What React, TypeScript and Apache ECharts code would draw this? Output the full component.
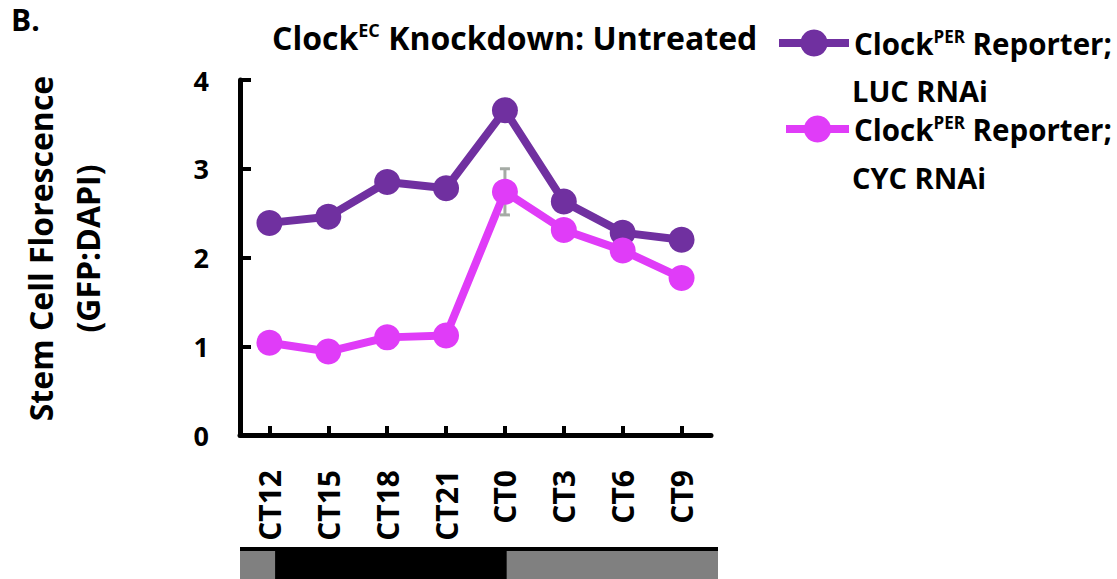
import React, { useEffect, useRef } from 'react';
import * as echarts from 'echarts';

const categories = ['CT12', 'CT15', 'CT18', 'CT21', 'CT0', 'CT3', 'CT6', 'CT9'];
const lucValues = [2.39, 2.46, 2.85, 2.78, 3.66, 2.63, 2.28, 2.2];
const cycValues = [1.04, 0.94, 1.1, 1.12, 2.74, 2.31, 2.08, 1.77];
const cycErr = [0.05, 0.05, 0.05, 0.05, 0.26, 0.06, 0.05, 0.05];
const lucErr = [0.04, 0.04, 0.05, 0.05, 0.06, 0.05, 0.04, 0.04];
const yTicks = [0, 1, 2, 3, 4];

// light/dark schedule bar (positions in category-index units)
const phaseStart = [-0.5, 0.1, 4.03];
const phaseEnd = [0.1, 4.03, 7.62];
const phaseKind = ['light', 'dark', 'light'];

const LUC_NAME = 'ClockPER Reporter; LUC RNAi';
const CYC_NAME = 'ClockPER Reporter; CYC RNAi';
const LUC_LINE2 = 'LUC RNAi';
const CYC_LINE2 = 'CYC RNAi';
const FONT = '"Open Sans", sans-serif';
const PURPLE = '#7030A0';
const MAGENTA = '#E03CF8';

const legendRich = {
  a: { fontSize: 29.5, fontWeight: 'bold', fontFamily: FONT, color: '#000', lineHeight: 30 },
  p: { fontSize: 17, fontWeight: 'bold', fontFamily: FONT, color: '#000', lineHeight: 17, padding: [0, 0, 13, 0] },
};

export default function App() {
  const ref = useRef<HTMLDivElement>(null);
  useEffect(() => {
    const chart = echarts.init(ref.current!, null, { renderer: 'svg' });
    const errSeries = (vals: number[], errs: number[], name: string) => ({
      type: 'custom',
      name: name + ' err',
      z: 1,
      xAxisIndex: 0,
      yAxisIndex: 0,
      data: vals.map((v, i) => [i, v - errs[i], v + errs[i]]),
      renderItem: (params: any, api: any) => {
        const i = api.value(0);
        const lo = api.coord([i, api.value(1)]);
        const hi = api.coord([i, api.value(2)]);
        const style = { stroke: '#A5ABA5', lineWidth: 3 };
        return {
          type: 'group',
          children: [
            { type: 'line', shape: { x1: lo[0], y1: lo[1], x2: hi[0], y2: hi[1] }, style },
            { type: 'line', shape: { x1: lo[0] - 5, y1: lo[1], x2: lo[0] + 5, y2: lo[1] }, style },
            { type: 'line', shape: { x1: hi[0] - 5, y1: hi[1], x2: hi[0] + 5, y2: hi[1] }, style },
          ],
        };
      },
    });
    const option: any = {
      animation: false,
      backgroundColor: '#fff',
      textStyle: { fontFamily: FONT },
      title: {
        text: '{a|Clock}{p|EC}{a| Knockdown: Untreated}',
        left: 272,
        top: 13,
        padding: 0,
        textStyle: {
          rich: {
            a: { fontSize: 32, fontWeight: 'bold', fontFamily: FONT, color: '#000', lineHeight: 48 },
            p: { fontSize: 18, fontWeight: 'bold', fontFamily: FONT, color: '#000', lineHeight: 19, padding: [0, 0, 14, 0] },
          },
        },
      },
      graphic: [
        {
          type: 'text',
          left: 11,
          top: 4,
          style: { text: 'B.', font: `bold 30px ${FONT}`, fill: '#000' },
        },
        {
          type: 'text',
          x: 852,
          y: 90,
          style: { text: LUC_LINE2, font: `bold 29px ${FONT}`, fill: '#000', verticalAlign: 'middle', lineHeight: 30 },
        },
        {
          type: 'text',
          x: 852,
          y: 177,
          style: { text: CYC_LINE2, font: `bold 29px ${FONT}`, fill: '#000', verticalAlign: 'middle', lineHeight: 30 },
        },
      ],
      legend: [
        {
          data: [LUC_NAME],
          left: 775,
          top: 45 - 17,
          padding: 0,
          itemWidth: 70,
          itemHeight: 34,
          selectedMode: false,
          lineStyle: { width: 8 },
          formatter: () => '{a|Clock}{p|PER}{a| Reporter;}',
          textStyle: { rich: legendRich },
        },
        {
          data: [CYC_NAME],
          left: 782,
          top: 131 - 17,
          padding: 0,
          itemWidth: 63,
          itemHeight: 34,
          selectedMode: false,
          lineStyle: { width: 8 },
          formatter: () => '{a|Clock}{p|PER}{a| Reporter;}',
          textStyle: { rich: legendRich },
        },
      ],
      grid: [
        { left: 240, top: 80, width: 471, height: 355 },
        { left: 240, top: 547, width: 478, height: 32, show: true, backgroundColor: '#000', borderWidth: 0 },
      ],
      xAxis: [
        {
          gridIndex: 0,
          type: 'category',
          data: categories,
          boundaryGap: true,
          axisLine: { lineStyle: { color: '#000', width: 5 } },
          axisTick: { show: true, inside: true, alignWithLabel: true, length: 9, lineStyle: { width: 4, color: '#000' } },
          axisLabel: { rotate: 90, margin: 35, fontSize: 30, fontWeight: 'bold', fontFamily: FONT, color: '#000' },
          splitLine: { show: false },
        },
        { gridIndex: 1, type: 'value', min: -0.5, max: 7.62, show: false },
      ],
      yAxis: [
        {
          gridIndex: 0,
          type: 'value',
          min: yTicks[0],
          max: yTicks[yTicks.length - 1],
          interval: 1,
          name: 'Stem Cell Florescence\n(GFP:DAPI)',
          nameLocation: 'middle',
          nameRotate: 90,
          nameGap: 129,
          nameTextStyle: { fontSize: 32, fontWeight: 'bold', fontFamily: FONT, color: '#000', lineHeight: 47, padding: [0, 0, 0, 18] },
          axisLine: { show: true, lineStyle: { color: '#000', width: 5 } },
          axisTick: { show: true, inside: true, length: 11, lineStyle: { width: 4, color: '#000' } },
          axisLabel: { margin: 31, fontSize: 27, fontWeight: 'bold', fontFamily: FONT, color: '#000' },
          splitLine: { show: false },
        },
        { gridIndex: 1, type: 'value', min: 0, max: 1, show: false },
      ],
      series: [
        errSeries(lucValues, lucErr, 'luc'),
        errSeries(cycValues, cycErr, 'cyc'),
        {
          type: 'line',
          name: LUC_NAME,
          data: lucValues,
          z: 2,
          symbol: 'circle',
          symbolSize: 26,
          itemStyle: { color: PURPLE },
          lineStyle: { color: PURPLE, width: 8 },
        },
        {
          type: 'line',
          name: CYC_NAME,
          data: cycValues,
          z: 3,
          symbol: 'circle',
          symbolSize: 26,
          itemStyle: { color: MAGENTA },
          lineStyle: { color: MAGENTA, width: 8 },
        },
        {
          type: 'custom',
          xAxisIndex: 1,
          yAxisIndex: 1,
          data: phaseStart.map((s, i) => [s, phaseEnd[i], phaseKind[i] === 'light' ? 1 : 0]),
          renderItem: (params: any, api: any) => {
            const p0 = api.coord([api.value(0), 0]);
            const p1 = api.coord([api.value(1), 1]);
            const light = api.value(2) === 1;
            return {
              type: 'rect',
              shape: { x: p0[0], y: p1[1] + 4, width: p1[0] - p0[0], height: p0[1] - p1[1] - 4 },
              style: { fill: light ? '#808080' : '#000' },
            };
          },
        },
      ],
    };
    chart.setOption(option);
    return () => chart.dispose();
  }, []);
  return <div ref={ref} style={{ position: 'absolute', left: 0, top: 0, width: 1117, height: 579 }} />;
}
